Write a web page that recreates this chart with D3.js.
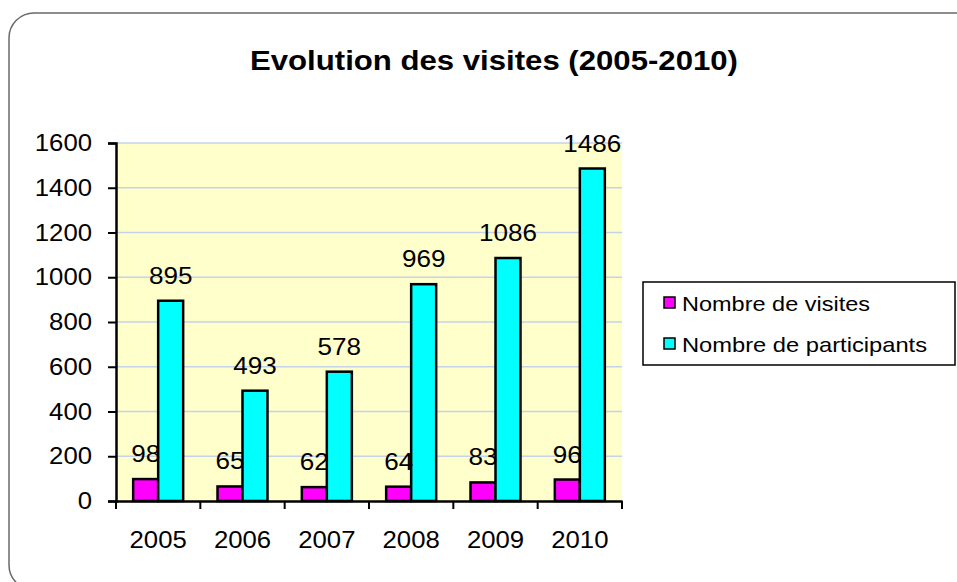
<!DOCTYPE html>
<html><head><meta charset="utf-8">
<script src="https://cdn.jsdelivr.net/npm/d3@7"></script>
<style>body{margin:0;background:#fff;} svg{display:block;font-family:"Liberation Sans",Arial,sans-serif;}</style>
</head><body>
<script>
const categories = ["2005","2006","2007","2008","2009","2010"];
const seriesNames = ["Nombre de visites","Nombre de participants"];
const visites = [98,65,62,64,83,96];
const participants = [895,493,578,969,1086,1486];
const yTicks = [0,200,400,600,800,1000,1200,1400,1600];
const colors = ["#ff00ff","#00ffff"];
const title = "Evolution des visites (2005-2010)";

const W=957,H=582;
const svg=d3.select("body").append("svg").attr("width",W).attr("height",H);
svg.append("rect").attr("x",9).attr("y",13).attr("width",980).attr("height",577).attr("rx",25)
  .attr("fill","#fff").attr("stroke","#6a6a6a").attr("stroke-width",1.5);

svg.append("text").attr("x",494).attr("y",70).attr("text-anchor","middle")
  .attr("font-size",27).attr("font-weight","bold").attr("textLength",488).attr("lengthAdjust","spacingAndGlyphs").text(title);

const L=116,R=622,T=143,B=501;
const x0=d3.scaleBand().domain(categories).range([L,R]).padding(0);
const bw=x0.bandwidth();
const x1=d3.scaleBand().domain(seriesNames).range([bw/2-25,bw/2+25]).padding(0);
const y=d3.scaleLinear().domain([0,1600]).range([B,T]);
const wide=(sel,per)=>sel.attr("textLength",function(){return this.textContent.length*per;}).attr("lengthAdjust","spacingAndGlyphs");

svg.append("rect").attr("x",L).attr("y",T).attr("width",R-L).attr("height",B-T).attr("fill","#ffffcc");
svg.append("g").selectAll("line").data(yTicks.filter(d=>d>0)).join("line")
  .attr("x1",L).attr("x2",R).attr("y1",d=>y(d)).attr("y2",d=>y(d)).attr("stroke","#c5d3ea").attr("stroke-width",1.5);

const data=categories.map((c,i)=>({cat:c,vals:[visites[i],participants[i]]}));
const g=svg.append("g").selectAll("g").data(data).join("g").attr("transform",d=>`translate(${x0(d.cat)},0)`);
g.selectAll("rect").data(d=>d.vals.map((v,j)=>({v,j}))).join("rect")
  .attr("x",d=>x1(seriesNames[d.j])).attr("width",x1.bandwidth())
  .attr("y",d=>y(d.v)).attr("height",d=>B-y(d.v))
  .attr("fill",d=>colors[d.j]).attr("stroke","#000").attr("stroke-width",2.5);
wide(g.selectAll("text").data(d=>d.vals.map((v,j)=>({v,j}))).join("text")
  .attr("x",d=>x1(seriesNames[d.j])+x1.bandwidth()/2).attr("y",d=>y(d.v)-17)
  .attr("text-anchor","middle").attr("font-size",24).text(d=>d.v),14.5);

const ya=svg.append("g").attr("transform",`translate(${L},0)`)
  .call(d3.axisLeft(y).tickValues(yTicks).tickSize(8).tickPadding(16).tickFormat(d3.format("d")));
ya.select(".domain").attr("stroke","#000").attr("stroke-width",2.5);
ya.selectAll(".tick line").attr("stroke","#000").attr("stroke-width",2);
wide(ya.selectAll("text").attr("font-size",24).attr("fill","#000").attr("font-family","Liberation Sans, Arial, sans-serif"),14.3);

const xa=svg.append("g").attr("transform",`translate(0,${B})`)
  .call(d3.axisBottom(x0).tickSize(0).tickPadding(30));
xa.select(".domain").attr("stroke","#000").attr("stroke-width",2.5);
wide(xa.selectAll("text").attr("font-size",24).attr("fill","#000").attr("font-family","Liberation Sans, Arial, sans-serif"),14.3);
svg.append("g").selectAll("line").data(categories.concat(["end"])).join("line")
  .attr("x1",(d,i)=>L+i*bw).attr("x2",(d,i)=>L+i*bw).attr("y1",B).attr("y2",B+8).attr("stroke","#000").attr("stroke-width",2);

const lg=svg.append("g");
lg.append("rect").attr("x",643).attr("y",282).attr("width",312).attr("height",83).attr("fill","#fff").attr("stroke","#000").attr("stroke-width",1.5);
const legW=[188,245];
seriesNames.forEach((s,i)=>{
  const cy=303+i*41;
  lg.append("rect").attr("x",664).attr("y",cy-6).attr("width",11).attr("height",11).attr("fill",colors[i]).attr("stroke","#000").attr("stroke-width",1.5);
  lg.append("text").attr("x",682).attr("y",cy+8).attr("font-size",21).attr("textLength",legW[i]).attr("lengthAdjust","spacingAndGlyphs").text(s);
});
</script>
</body></html>
